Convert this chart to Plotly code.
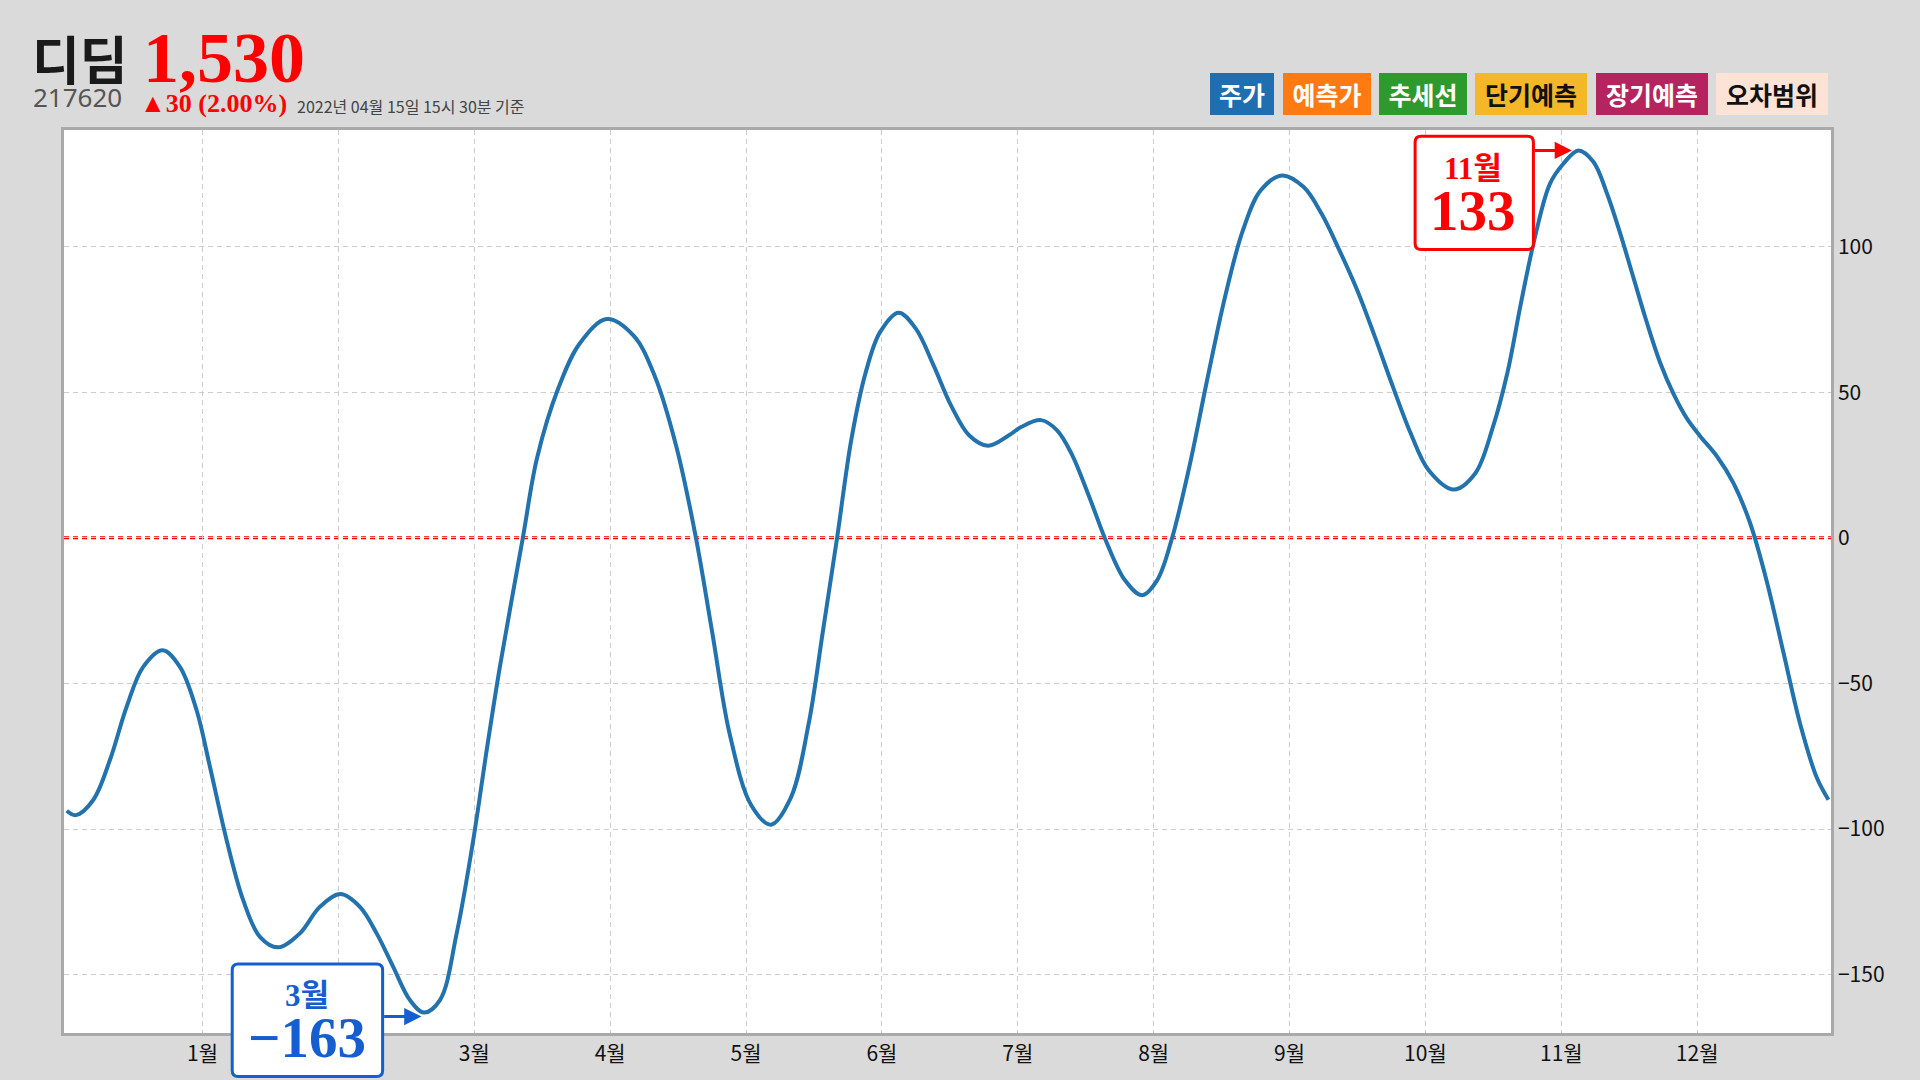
import plotly.graph_objects as go

# ---------------- data ----------------
stock_name = "디딤"
stock_code = "217620"
price = 1530
change = 30
change_pct = 2.00
timestamp = "2022년 04월 15일 15시 30분 기준"

legend_names = ["주가", "예측가", "추세선", "단기예측", "장기예측", "오차범위"]
legend_colors = ["#1f6fb0", "#ff7b12", "#2e9a2e", "#f3b728", "#b5245e", "#fde3d5"]
legend_text_colors = ["white", "white", "white", "#111111", "white", "#111111"]

month_ticks = list(range(1, 13))
month_labels = [f"{m}월" for m in month_ticks]
hidden_tick = 2          # label covered by the minimum callout in the reference
y_ticks = [-150, -100, -50, 0, 50, 100]

x_month = [0.00, 0.067, 0.195, 0.318, 0.441, 0.563, 0.706, 0.833, 0.956, 1.054,
           1.177, 1.299, 1.422, 1.556, 1.716, 1.863, 2.016, 2.158, 2.281, 2.403,
           2.526, 2.629, 2.747, 2.870, 2.992, 3.091, 3.188, 3.357, 3.462,
           3.620, 3.777, 3.975, 4.172, 4.329, 4.487, 4.631, 4.750, 4.881, 5.039,
           5.183, 5.328, 5.460, 5.565, 5.670, 5.775, 5.880, 5.986, 6.123, 6.248,
           6.380, 6.511, 6.643, 6.780, 6.932, 7.027, 7.171, 7.289, 7.395, 7.526,
           7.657, 7.789, 7.913, 8.025, 8.131, 8.262, 8.393, 8.525, 8.657, 8.788,
           8.945, 9.104, 9.235, 9.367, 9.498, 9.629, 9.761, 9.892, 10.024, 10.208,
           10.366, 10.497, 10.602, 10.707, 10.812, 10.917, 11.015, 11.126, 11.236, 11.335,
           11.433, 11.531, 11.629, 11.727, 11.825, 11.924, 12.022, 12.145, 12.267, 12.390,
           12.512, 12.635, 12.758, 12.880, 12.966]
y_value = [-93.7, -95.2, -90.0, -76.3, -58.0, -44.3, -38.6, -44.3, -59.2, -78.6,
           -103.8, -124.4, -137.0, -140.6, -135.8, -126.7, -122.3, -126.7, -135.8, -147.3,
           -158.7, -163.0, -158.7, -135.8, -103.8, -72.9, -44.3, 0.0, 27.5,
           51.6, 66.8, 75.1, 69.4, 55.4, 31.3, 0.0, -32.2, -67.7, -91.9,
           -98.5, -89.4, -64.0, -32.2, 0.0, 33.8, 56.7, 70.6, 77.3, 71.9,
           59.2, 45.2, 35.1, 31.6, 35.1, 38.1, 40.4, 36.9, 28.9, 14.0,
           -2.0, -14.6, -19.7, -14.6, -0.8, 24.3, 54.1, 82.7, 105.6, 119.3,
           124.4, 120.4, 111.3, 98.7, 85.0, 68.9, 51.8, 35.8, 23.2, 16.6,
           22.1, 38.1, 56.4, 81.5, 104.4, 121.6, 128.4, 133.0, 129.1, 118.4,
           104.6, 89.3, 74.0, 60.2, 49.5, 41.0, 34.9, 28.0, 18.8, 5.0,
           -14.9, -39.4, -63.9, -82.3, -89.9]

max_label, max_x, max_y = "11월", 11.126, 133
min_label, min_x, min_y = "3월", 2.629, -163

# ---------------- layout geometry ----------------
W, H = 1920, 1080
PL, PR, PT, PB = 64, 1831, 129.5, 1033
X_RANGE = [-0.02, 12.985]
Y_RANGE = [-170, 140]
BG = "#dadada"
RED = "#ff0000"
BLUE = "#155ed1"
LINE_BLUE = "#2272ae"
SERIF = "Liberation Serif, Noto Sans CJK KR, serif"
SANS = "Noto Sans CJK KR, Noto Sans, sans-serif"


def pxx(px):
    return (px - PL) / (PR - PL)


def pxy(py):
    return (PB - py) / (PB - PT)


def fmt_num(v):
    return f"{v:,}".replace("-", "\u2212")


fig = go.Figure()
fig.add_trace(go.Scatter(
    x=x_month, y=y_value, mode="lines",
    line=dict(color=LINE_BLUE, width=4, shape="spline", smoothing=1.0),
    hoverinfo="skip", showlegend=False,
))

# zero line
fig.add_shape(type="line", xref="paper", yref="y", x0=0, x1=1, y0=0, y1=0,
              line=dict(color=RED, width=3, dash="5px,4px"), layer="between")

annotations = []

# ---- header ----
annotations.append(dict(text=f"<b>{stock_name}</b>", x=pxx(30), y=pxy(57), xref="paper", yref="paper",
                        xanchor="left", yanchor="middle", showarrow=False,
                        font=dict(family=SANS, size=52, color="#1a1a1a", weight=900)))
annotations.append(dict(text=f"<b>{fmt_num(price)}</b>", x=pxx(141), y=pxy(57), xref="paper", yref="paper",
                        xanchor="left", yanchor="middle", showarrow=False,
                        font=dict(family=SERIF, size=72, color=RED)))
annotations.append(dict(text=stock_code, x=pxx(31), y=pxy(96), xref="paper", yref="paper",
                        xanchor="left", yanchor="middle", showarrow=False,
                        font=dict(family="Noto Sans, sans-serif", size=26, color="#555555")))
annotations.append(dict(text=f"<b>▲{change} ({change_pct:.2f}%)</b>", x=pxx(138), y=pxy(103),
                        xref="paper", yref="paper", xanchor="left", yanchor="middle", showarrow=False,
                        font=dict(family=SERIF, size=26, color=RED)))
annotations.append(dict(text=timestamp, x=pxx(295), y=pxy(105), xref="paper", yref="paper",
                        xanchor="left", yanchor="middle", showarrow=False,
                        font=dict(family=SANS, size=16, color="#444444")))

# ---- legend boxes ----
gap = 8.4
right_edge = 1828.2
widths = [len(n) * 24 + 16 for n in legend_names]
x_cursor = right_edge - (sum(widths) + gap * (len(widths) - 1))
for name, col, tcol, w in zip(legend_names, legend_colors, legend_text_colors, widths):
    annotations.append(dict(text=f"<b>{name}</b>", x=pxx(x_cursor), y=pxy(93), xref="paper", yref="paper",
                            xanchor="left", yanchor="middle", showarrow=False,
                            width=w, height=42, bgcolor=col, borderpad=0, borderwidth=0,
                            align="center", valign="middle",
                            font=dict(family=SANS, size=25, color=tcol)))
    x_cursor += w + gap


# ---- callouts ----
def to_paper(x, y):
    return ((x - X_RANGE[0]) / (X_RANGE[1] - X_RANGE[0]),
            (y - Y_RANGE[0]) / (Y_RANGE[1] - Y_RANGE[0]))


def rounded_box(x, y, left, top, right, bottom, r, color):
    """box given as pixel offsets (screen direction) from data point (x, y)."""
    ax, ay = to_paper(x, y)
    sx = 1.0 / (PR - PL)
    sy = 1.0 / (PB - PT)

    def P(dx, dy):
        return f"{ax + dx * sx:.6f},{ay - dy * sy:.6f}"

    path = (f"M{P(left + r, top)} L{P(right - r, top)} Q{P(right, top)} {P(right, top + r)} "
            f"L{P(right, bottom - r)} Q{P(right, bottom)} {P(right - r, bottom)} "
            f"L{P(left + r, bottom)} Q{P(left, bottom)} {P(left, bottom - r)} "
            f"L{P(left, top + r)} Q{P(left, top)} {P(left + r, top)} Z")
    fig.add_shape(type="path", xref="paper", yref="paper", path=path,
                  fillcolor="white", line=dict(color=color, width=3), layer="above")


def callout(x, y, label, value, color, box, arrow_ax, arrow_yshift, standoff,
            lab_dx, lab_dy, val_dx, val_dy):
    rounded_box(x, y, *box, 6, color)
    annotations.append(dict(text="", x=x, y=y, xref="x", yref="y", showarrow=True,
                            ax=arrow_ax, ay=0, arrowhead=2, arrowsize=1.15, arrowwidth=3,
                            arrowcolor=color, standoff=standoff, yshift=arrow_yshift))
    annotations.append(dict(text=f"<b>{label}</b>", x=x, y=y, xref="x", yref="y", showarrow=False,
                            xanchor="center", yanchor="middle", xshift=lab_dx, yshift=lab_dy,
                            font=dict(family=SERIF, size=31, color=color)))
    annotations.append(dict(text=f"<b>{fmt_num(value)}</b>", x=x, y=y, xref="x", yref="y", showarrow=False,
                            xanchor="center", yanchor="middle", xshift=val_dx, yshift=val_dy,
                            font=dict(family=SERIF, size=57, color=color)))


callout(max_x, max_y, max_label, max_y, RED, (-163.3, -14.1, -45, 99.2), -45, 0, 6.5,
        -105, -18, -105, -60)
callout(min_x, min_y, min_label, min_y, BLUE, (-191.7, -48.7, -41.3, 64), -41.3, -4, 2.5,
        -117, 17, -117, -25)

tick_text = ["" if m == hidden_tick else lab for m, lab in zip(month_ticks, month_labels)]

fig.update_layout(
    width=W, height=H,
    margin=dict(l=PL, r=W - PR, t=PT, b=H - PB, pad=0),
    paper_bgcolor=BG, plot_bgcolor="white",
    showlegend=False,
    annotations=annotations,
    xaxis=dict(range=X_RANGE, tickmode="array", tickvals=month_ticks, ticktext=tick_text,
               showgrid=True, gridcolor="#cccccc", griddash="5px,4px", gridwidth=1.3,
               showline=True, linecolor="#a9a9a9", linewidth=2.5, mirror=True,
               zeroline=False, ticks="", fixedrange=True,
               tickfont=dict(family=SANS, size=21, color="#111111")),
    yaxis=dict(range=Y_RANGE, side="right", tickmode="array", tickvals=y_ticks,
               showgrid=True, gridcolor="#cccccc", griddash="5px,4px", gridwidth=1.3,
               showline=True, linecolor="#a9a9a9", linewidth=2.5, mirror=True,
               zeroline=False, ticks="", fixedrange=True,
               tickfont=dict(family=SANS, size=21, color="#111111")),
)

fig.write_html("out.html",
               config={"displayModeBar": False},
               post_script="document.body.style.margin='0';document.body.style.overflow='hidden';")
